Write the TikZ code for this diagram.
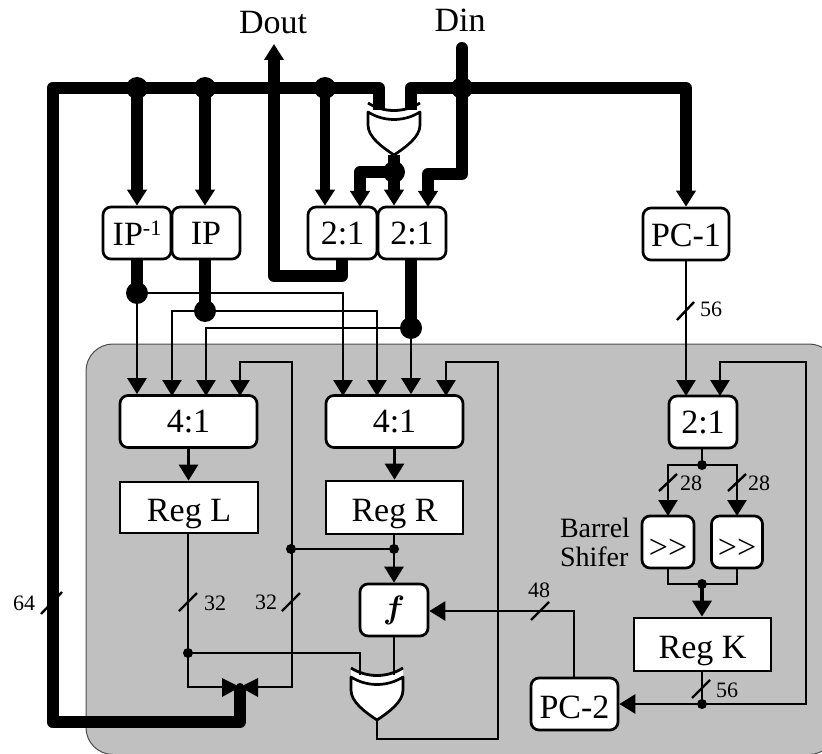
\documentclass[tikz,border=0pt]{standalone}
\usepackage{graphicx}
\usepackage{fontspec}
\setmainfont{Liberation Serif}
\usetikzlibrary{arrows.meta,calc}
\definecolor{panelgray}{HTML}{C0C0C0}
\newcommand{\lowtext}[2]{\smash{\raisebox{-#1}{#2}}}
\tikzset{
  x=1pt,y=-1pt,
  boxbase/.style={draw,fill=white,line width=2.7pt,inner sep=0pt,font=\fontsize{34}{36}\selectfont,align=center},
  mux/.style={boxbase,rounded corners=8pt},
  reg/.style={boxbase},
  thin wire/.style={line width=2.8pt,line join=miter},
  bus/.style={line width=12pt,line join=round},
  tip/.style={-{Triangle[length=16pt,width=19pt]}},
  bigdot/.style={circle,fill=black,inner sep=0pt,minimum size=22pt},
  smalldot/.style={circle,fill=black,inner sep=0pt,minimum size=10pt},
  widthlabel/.style={font=\fontsize{22}{24}\selectfont,inner sep=0pt},
  slash/.style={line width=2.4pt},
  biglabel/.style={font=\fontsize{34}{36}\selectfont,inner sep=0pt,anchor=base},
  xorgate/.pic={
    \path[fill=white] (-26,0) .. controls (-10,10) and (10,10) .. (26,0) -- (26,22)
      .. controls (26,34) and (12,44) .. (0,52) .. controls (-12,44) and (-26,34) .. (-26,22) -- cycle;
    \draw[line width=2.7pt,line join=round] (-26,9) .. controls (-10,19) and (10,19) .. (26,9) -- (26,22)
      .. controls (26,34) and (12,44) .. (0,52) .. controls (-12,44) and (-26,34) .. (-26,22) -- cycle;
    \draw[line width=2.8pt] (-26,0) .. controls (-10,10) and (10,10) .. (26,0);
  }
}
\begin{document}
\begin{tikzpicture}
\useasboundingbox (0,0) rectangle (822,754);
\begin{scope}
  \clip (0,0) rectangle (822,754);
  \draw[fill=panelgray,draw=black!70,line width=1pt,rounded corners=27pt] (86,344) rectangle (836,754.5);
\end{scope}

% boxes
\node[mux,minimum width=68pt,minimum height=52pt] (ipinv) at (137,233) {IP\raisebox{10pt}{\fontsize{22}{22}\selectfont -1}};
\node[mux,minimum width=68pt,minimum height=52pt] (ip) at (206,233) {IP};
\node[mux,minimum width=69pt,minimum height=52pt] (sela) at (342.5,233) {2:1};
\node[mux,minimum width=68pt,minimum height=52pt] (selb) at (412,233) {2:1};
\node[mux,minimum width=86pt,minimum height=52pt] (pcone) at (686,234) {\lowtext{13pt}{PC-1}};
\node[mux,minimum width=137pt,minimum height=52pt] (mleft) at (188.5,421.5) {4:1};
\node[mux,minimum width=137pt,minimum height=52pt] (mright) at (394.5,421.5) {4:1};
\node[mux,minimum width=68pt,minimum height=52pt] (kmux) at (703,422) {2:1};
\node[reg,minimum width=138pt,minimum height=51pt] (regl) at (189,507.5) {\lowtext{14pt}{Reg L}};
\node[reg,minimum width=137pt,minimum height=53pt] (regr) at (394.5,507.5) {\lowtext{14pt}{Reg R}};
\node[mux,minimum width=68pt,minimum height=52pt] (ffun) at (394,610) {\scalebox{1.3}{\fontsize{24.88}{26}\selectfont{\boldmath$f$}}};
\node[mux,minimum width=52pt,minimum height=52pt] (shl) at (668,542) {\lowtext{16pt}{>{}>}};
\node[mux,minimum width=51pt,minimum height=52pt] (shr) at (737,542) {\lowtext{16pt}{>{}>}};
\node[reg,minimum width=137pt,minimum height=53pt] (regk) at (702.5,644.5) {\lowtext{14pt}{Reg K}};
\node[mux,minimum width=87pt,minimum height=52pt] (pctwo) at (574.5,704) {\lowtext{14pt}{PC-2}};

% gates
\pic at (394,103) {xorgate};
\pic at (377,668) {xorgate};
\coordinate (gtopa) at (379,110);
\coordinate (gtopb) at (411,110);
\coordinate (gtopo) at (394,155);
\coordinate (gbota) at (360,675);
\coordinate (gbotb) at (394,675);
\coordinate (gboto) at (377,720);

% free coordinates
\coordinate (tsate) at (240,687);
\coordinate (din) at (462,48);
\coordinate (dout) at (274,44);

% junctions
\node[bigdot] (ja) at (137,88) {};
\node[bigdot] (jb) at (205,88) {};
\node[bigdot] (jc) at (325,88) {};
\node[bigdot] (jd) at (462,88) {};
\node[bigdot] (je) at (394,172) {};
\node[bigdot] (jf) at (137,293) {};
\node[bigdot] (jg) at (205,311) {};
\node[bigdot] (jh) at (411,328) {};
\node[smalldot] (ji) at (291,549) {};
\node[smalldot] (jj) at (394,549) {};
\node[smalldot] (jk) at (188,653) {};
\node[smalldot] (jl) at (702,465) {};
\node[smalldot] (jm) at (702,584) {};
\node[smalldot] (jn) at (702,704) {};

% main buses
\draw[bus] (240,688) -- (240,722) -- (52.5,722) -- (52.5,88) -- (379,88) -- (gtopa);
\draw[bus] (gtopb) -- (411,88) -- (686,88) -- (686,150);
\draw[bus,tip] (686,140) -- (pcone.north);
\draw[bus,tip] (ja.center) -- (ja.center |- ipinv.north);
\draw[bus,tip] (jb.center) -- (jb.center |- ip.north);
\draw[bus,tip,line width=10pt] (jc.center) -- (jc.center |- sela.north);
\draw[bus,line cap=round] (din) -- (jd.center);
\draw[bus] (jd.center) -- (462,174) -- (428,174) -- (428,195);
\draw[bus,tip] (428,185) -- (428,207);
\draw[bus] (gtopo) -- (je.center);
\draw[bus,tip] (je.center) -- (je.center |- selb.north);
\draw[bus] (je.center) -- (360,172) -- (360,195);
\draw[bus,tip] (360,185) -- (360,207);
\draw[bus] (342,259) -- (342,276) -- (274,276) -- (274,70);
\draw[bus,tip] (274,80) -- (dout);
\draw[bus] (137,259) -- (jf.center);
\draw[bus] (205,259) -- (jg.center);
\draw[bus] (411,259) -- (jh.center);

% thin wires into the 4:1 muxes
\draw[thin wire,tip] (jf.center) -- (jf.center |- mleft.north);
\draw[thin wire,tip] (jf.center) -- (343,293) -- (343,396);
\draw[thin wire,tip] (jg.center) -- (172,311) -- (172,396);
\draw[thin wire,tip] (jg.center) -- (377,311) -- (377,396);
\draw[thin wire,tip] (jh.center) -- (206,328) -- (206,396);
\draw[thin wire,tip] (jh.center) -- (jh.center |- mright.north);

% feedback
\draw[thin wire,tip] (258,687) -- (292,687) -- (292,362) -- (240,362) -- (240,396);
\draw[thin wire,tip] (gboto) -- (377,739) -- (498,739) -- (498,362) -- (446,362) -- (446,396);

\draw[thin wire,tip] (mleft.south) -- (regl.north -| mleft.south);
\draw[thin wire,tip] (mright.south) -- (regr.north);
\draw[thin wire] (188,533) -- (188,687) -- (222,687);
\draw[thin wire] (jk.center) -- (360,653) -- (gbota);
\draw[thin wire] (ji.center) -- (jj.center);
\draw[thin wire] (regr.south -| jj) -- (jj.center);
\draw[thin wire,tip] (jj.center) -- (ffun.north);
\draw[thin wire] (ffun.south) -- (gbotb);
\draw[thin wire,tip] (574,678) -- (574,611) -- (ffun.east |- 574,611);

% key path
\draw[thin wire,tip] (pcone.south) -- (686,396);
\draw[thin wire] (702,448) -- (jl.center);
\draw[thin wire,tip] (jl.center) -- (668,465) -- (668,516);
\draw[thin wire,tip] (jl.center) -- (737,465) -- (737,516);
\draw[thin wire] (shl.south) -- (668,584) -- (jm.center);
\draw[thin wire] (shr.south) -- (737,584) -- (jm.center);
\draw[line width=3.6pt,tip] (jm.center) -- (jm.center |- regk.north);
\draw[thin wire] (702,671) -- (jn.center);
\draw[thin wire,tip] (jn.center) -- (pctwo.east);
\draw[thin wire,tip] (jn.center) -- (806,704) -- (806,362) -- (720,362) -- (720,396);

% three-state
\fill (222,678) -- (240,687) -- (222,697) -- cycle;
\fill (258,678) -- (240,687) -- (258,697) -- cycle;
\fill (tsate) circle (4pt);

% width marks
\draw[slash] (41,614) -- (62,592);
\draw[slash] (179,611) -- (197,593);
\draw[slash] (282,611) -- (300,593);
\draw[slash] (531,620) -- (549,602);
\draw[slash] (677,320) -- (694,302);
\draw[slash] (659,491) -- (677,474);
\draw[slash] (728,491) -- (746,474);
\draw[slash] (692,698) -- (710,680);
\node[widthlabel] (l64) at (24,603) {64};
\node[widthlabel] (l32a) at (215,603) {32};
\node[widthlabel] (l32b) at (266,602) {32};
\node[widthlabel] (l48) at (539,590) {48};
\node[widthlabel] (l56a) at (711,309) {56};
\node[widthlabel] (l28a) at (691,483) {28};
\node[widthlabel] (l28b) at (759,483) {28};
\node[widthlabel] (l56b) at (727,690) {56};

% captions
\node[biglabel] (tdout) at (273,34) {Dout};
\node[biglabel] (tdin) at (460,32) {Din};
\node[font=\fontsize{28}{29}\selectfont,align=left,inner sep=0pt] (tbarrel) at (595,542) {Barrel\\Shifer};
\end{tikzpicture}
\end{document}
